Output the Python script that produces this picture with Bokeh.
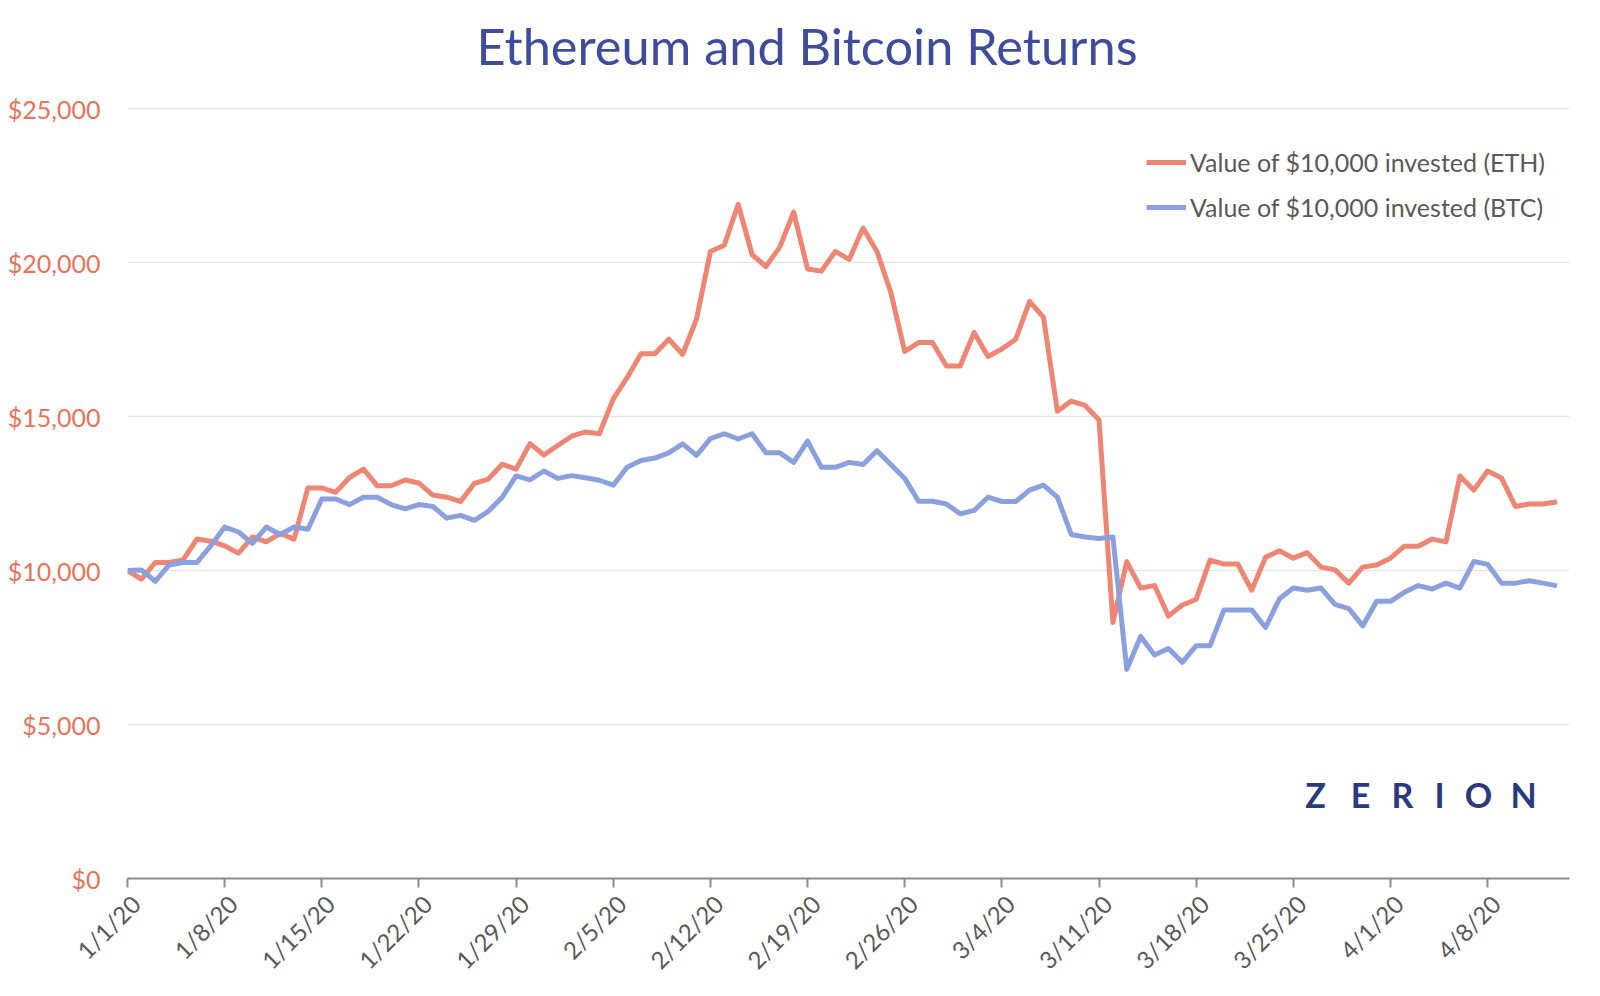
from bokeh.plotting import figure
from bokeh.models import (Range1d, FixedTicker, NumeralTickFormatter, Legend,
                          LegendItem, Label, LinearAxis)
from bokeh.embed import file_html
from bokeh.resources import INLINE
from math import pi

# ---------------- data ----------------
days = list(range(104))  # 1/1/20 .. 4/13/20

eth = [10000, 9720, 10260, 10260, 10340, 11020, 10950, 10800, 10560, 11090,
       10930, 11200, 11020, 12680, 12680, 12540, 13020, 13290, 12750, 12750,
       12940, 12840, 12450, 12380, 12240, 12830, 12970, 13450, 13290, 14120,
       13750, 14060, 14360, 14500, 14440, 15570, 16260, 17040, 17040, 17510,
       17020, 18160, 20360, 20560, 21890, 20260, 19870, 20500, 21640, 19790,
       19720, 20360, 20100, 21120, 20360, 19030, 17110, 17400, 17400, 16640,
       16640, 17730, 16950, 17190, 17510, 18740, 18220, 15170, 15500, 15360,
       14890, 8310, 10290, 9430, 9510, 8520, 8880, 9060, 10340, 10210,
       10210, 9360, 10430, 10640, 10400, 10580, 10110, 10020, 9590, 10110,
       10180, 10400, 10790, 10790, 11020, 10930, 13070, 12610, 13230, 13000,
       12080, 12160, 12160, 12230]

btc = [10000, 10020, 9650, 10180, 10260, 10260, 10800, 11410, 11250, 10880,
       11410, 11170, 11410, 11340, 12320, 12320, 12140, 12380, 12380, 12140,
       12000, 12140, 12080, 11700, 11790, 11630, 11920, 12380, 13070, 12940,
       13230, 12990, 13080, 13010, 12930, 12770, 13350, 13570, 13650, 13820,
       14110, 13740, 14280, 14440, 14270, 14440, 13820, 13820, 13510, 14200,
       13350, 13350, 13510, 13440, 13890, 13440, 12990, 12250, 12250, 12160,
       11840, 11950, 12380, 12240, 12240, 12610, 12770, 12380, 11170, 11090,
       11040, 11090, 6790, 7860, 7260, 7470, 7020, 7560, 7560, 8720,
       8720, 8720, 8150, 9080, 9430, 9360, 9430, 8900, 8760, 8200,
       9000, 9000, 9290, 9510, 9400, 9590, 9430, 10290, 10200, 9590,
       9590, 9670, 9590, 9500]

tick_days = [0, 7, 14, 21, 28, 35, 42, 49, 56, 63, 70, 77, 84, 91, 98]
tick_labels = ["1/1/20", "1/8/20", "1/15/20", "1/22/20", "1/29/20", "2/5/20",
               "2/12/20", "2/19/20", "2/26/20", "3/4/20", "3/11/20", "3/18/20",
               "3/25/20", "4/1/20", "4/8/20"]
y_ticks = [0, 5000, 10000, 15000, 20000, 25000]

series_names = ["Value of $10,000 invested (ETH)",
                "Value of $10,000 invested (BTC)"]
title_text = "Ethereum and Bitcoin Returns"
logo_letters = ["Z", "E", "R", "I", "O", "N"]

# ---------------- styles ----------------
ETH_COL = "#EF8573"
BTC_COL = "#8BA1DE"
YLAB_COL = "#E8735A"
TXT_COL = "#595959"
TITLE_COL = "#3F4C9E"
LOGO_COL = "#2B3A7C"
FONT = "Lato"
X_END = 103.9
LABEL_SHIFT = 0.6   # labels sit slightly right of their tick, as in the original

# The plotted value range is 0..25,000 over 770 px; the frame is extended
# upward (without ticks or grid there) so the title can sit inside it.
PLOT_H = 770
FRAME_H = 874
Y_END = 25000 * FRAME_H / PLOT_H

p = figure(frame_width=1442, frame_height=FRAME_H,
           min_border_left=127, min_border_right=14,
           min_border_top=4, min_border_bottom=98,
           x_range=Range1d(0, X_END), y_range=Range1d(0, Y_END),
           x_axis_location=None,
           output_backend="svg", toolbar_location=None,
           background_fill_color="white", border_fill_color="white")
p.outline_line_color = None
p.extra_x_ranges = {"lab": Range1d(-LABEL_SHIFT, X_END - LABEL_SHIFT)}

r_eth = p.line(days, eth, line_color=ETH_COL, line_width=5, line_join="round")
r_btc = p.line(days, btc, line_color=BTC_COL, line_width=5, line_join="round")

# x axis: line + ticks
xa = LinearAxis(ticker=FixedTicker(ticks=tick_days))
xa.major_label_overrides = {d: "" for d in tick_days}
xa.major_label_text_font_size = "0px"
xa.major_label_standoff = 0
xa.axis_line_color = "#8C8C8C"
xa.axis_line_width = 2
xa.major_tick_line_color = "#8C8C8C"
xa.major_tick_line_width = 2
xa.major_tick_out = 9
xa.major_tick_in = 0
xa.minor_tick_line_color = None
p.add_layout(xa, "below")

# x axis: rotated date labels
xl = LinearAxis(x_range_name="lab", ticker=FixedTicker(ticks=tick_days))
xl.major_label_overrides = {d: l for d, l in zip(tick_days, tick_labels)}
xl.major_label_orientation = pi / 4
xl.major_label_text_font = FONT
xl.major_label_text_font_size = "24px"
xl.major_label_text_color = TXT_COL
xl.axis_line_color = None
xl.major_tick_line_color = None
xl.minor_tick_line_color = None
xl.major_tick_out = 0
xl.major_tick_in = 0
xl.major_label_standoff = 12
p.add_layout(xl, "below")

ya = p.yaxis[0]
ya.ticker = FixedTicker(ticks=y_ticks)
ya.formatter = NumeralTickFormatter(format="$0,0")
ya.major_label_text_font = FONT
ya.major_label_text_font_size = "25px"
ya.major_label_text_color = YLAB_COL
ya.axis_line_color = None
ya.major_tick_line_color = None
ya.minor_tick_line_color = None
ya.major_tick_out = 0
ya.major_label_standoff = 27

for g in p.xgrid:
    g.visible = False
p.ygrid.grid_line_color = "#E5E5E5"
p.ygrid.grid_line_width = 1.5
p.ygrid.ticker = FixedTicker(ticks=y_ticks)

# title (frame-relative screen units)
p.add_layout(Label(x=349, y=864, x_units="screen", y_units="screen",
                   text=title_text, text_font=FONT, text_font_size="50.5px",
                   text_color=TITLE_COL, text_align="left",
                   text_baseline="top"))

# legend
legend = Legend(items=[LegendItem(label=series_names[0], renderers=[r_eth]),
                       LegendItem(label=series_names[1], renderers=[r_btc])],
                location=(1019, 656), orientation="vertical")
legend.label_text_font = FONT
legend.label_text_font_size = "25px"
legend.label_text_color = TXT_COL
legend.glyph_width = 40
legend.glyph_height = 30
legend.label_height = 30
legend.label_standoff = 4
legend.spacing = 15
legend.padding = 0
legend.margin = 0
legend.border_line_color = None
legend.background_fill_alpha = 0
p.add_layout(legend, "center")

# logo
logo_x = [1188, 1233, 1275, 1312, 1351, 1396]
for lx, ch in zip(logo_x, logo_letters):
    p.add_layout(Label(x=lx, y=84, x_units="screen", y_units="screen",
                       text=ch, text_font="Lato", text_font_size="34px",
                       text_font_style="bold",
                       text_color=LOGO_COL, text_align="center",
                       text_baseline="middle"))

open("out.html", "w").write(file_html(p, INLINE))
